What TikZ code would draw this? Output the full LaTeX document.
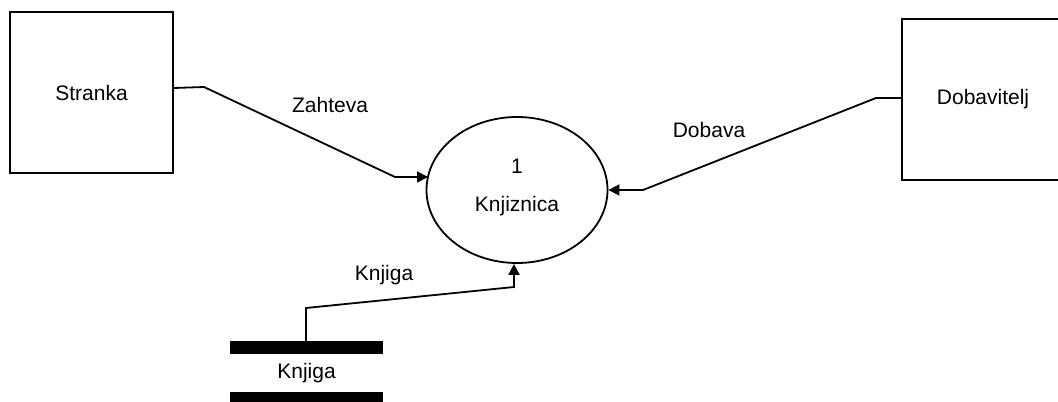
\documentclass[tikz,border=0pt]{standalone}
\usepackage{fontspec}
\setmainfont{Liberation Sans}
\usetikzlibrary{shapes.geometric,arrows.meta}
\begin{document}
\begin{tikzpicture}[x=0.5pt,y=-0.5pt,
  every node/.style={font=\fontsize{10.5}{12.6}\selectfont},
  entity/.style={draw,line width=0.9pt,rectangle,inner sep=0pt},
  proc/.style={draw,line width=0.9pt,ellipse,inner sep=0pt,minimum width=90.5pt,minimum height=73pt},
  storebox/.style={rectangle,inner sep=0pt,minimum width=76.5pt,minimum height=19pt},
  bar/.style={fill=black},
  flow/.style={line width=0.9pt,-{Triangle[length=5.5pt,width=5.5pt]}},
  lbl/.style={inner sep=0pt}]
\useasboundingbox (0,0) rectangle (1058,401);
\node[entity,minimum width=81.5pt,minimum height=80.5pt] (stranka) at (91.5,92.5) {Stranka};
\node[entity,minimum width=81pt,minimum height=80.5pt] (dob) at (983,99.5) {Dobavitelj};
\node[proc] (knj) at (517,190) {};
\node[lbl] (knum) at (517,166) {1};
\node[lbl] (kname) at (517,206) {Knjiznica};
\node[storebox] (store) at (306.5,373) {Knjiga};
\fill[bar] (store.north west) rectangle ([yshift=6.5pt]store.north east);
\fill[bar] (store.south west) rectangle ([yshift=-6.5pt]store.south east);
% Zahteva
\coordinate (z1) at (204,87);
\coordinate (z2) at (395,177);
\coordinate (z3) at (428,177);
\draw[flow] ([yshift=2.25pt]stranka.east) -- (z1) -- (z2) -- (z3);
\node[lbl] (lz) at (330,105) {Zahteva};
% Dobava
\coordinate (d1) at (876,98);
\coordinate (d2) at (643,190);
\draw[flow] ([yshift=0.75pt]dob.west) -- (d1) -- (d2) -- (knj.east);
\node[lbl] (ld) at (709,130) {Dobava};
% Knjiga
\coordinate (k0) at (306,341);
\coordinate (k1) at (306,308);
\coordinate (k2) at (514,287);
\draw[flow] (k0) -- (k1) -- (k2) -- (k2 |- knj.south);
\node[lbl] (lk) at (384,275) {Knjiga};
\end{tikzpicture}
\end{document}
